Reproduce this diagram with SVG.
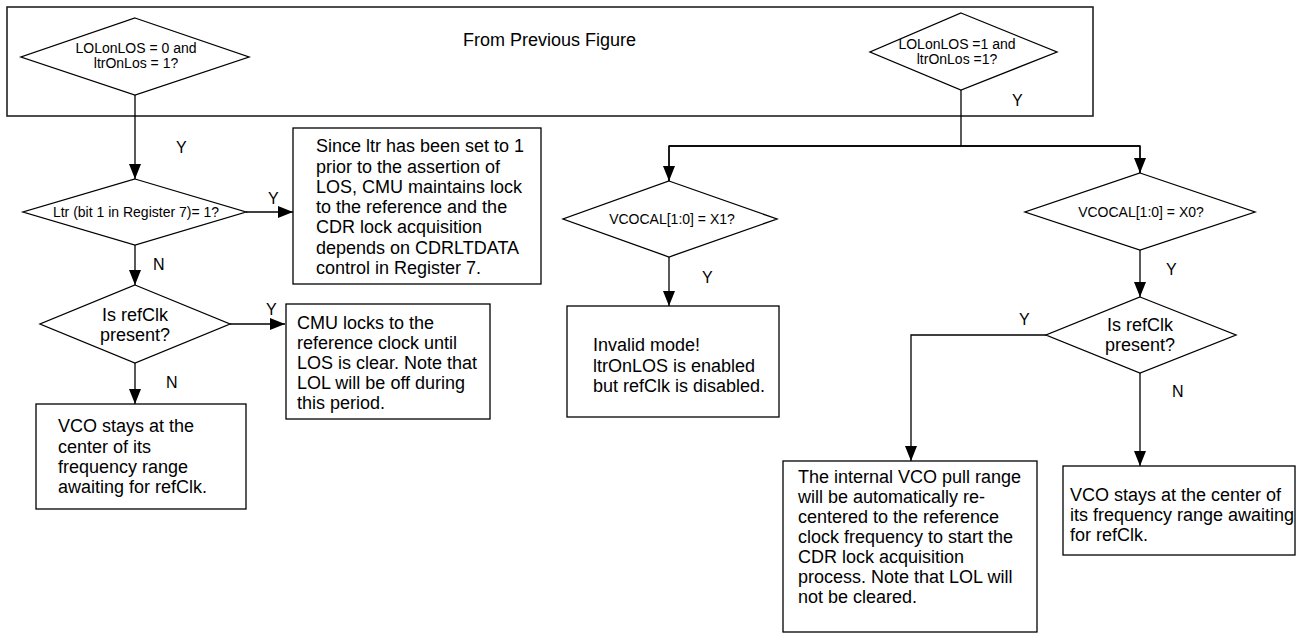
<svg xmlns="http://www.w3.org/2000/svg" width="1312" height="633" viewBox="0 0 1312 633">
<style>
  .shape { fill: #ffffff; stroke: #000000; stroke-width: 1.3; }
  .outer { fill: #ffffff; stroke: #222222; stroke-width: 1.6; }
  .conn { fill: none; stroke: #000000; stroke-width: 1.3; }
  .t18 { font-family: "Liberation Sans", Arial, sans-serif; font-size: 18px; fill: #000000; }
  .t14 { font-family: "Liberation Sans", Arial, sans-serif; font-size: 14px; fill: #000000; }
  .lbl { font-family: "Liberation Sans", Arial, sans-serif; font-size: 16px; fill: #000000; }
  .mid { text-anchor: middle; }
</style>
<defs>
  <marker id="arrow" markerUnits="userSpaceOnUse" markerWidth="15" markerHeight="12" refX="15" refY="6" orient="auto">
    <path d="M0,0 L15,6 L0,12 z" fill="#000000"/>
  </marker>
</defs>

<g id="outer-frame">
  <rect class="outer" x="7" y="7" width="1086" height="109"/>
  <text class="t18" x="463" y="46">From Previous Figure</text>
</g>

<g id="connectors">
  <line class="conn" x1="135" y1="95" x2="135" y2="179" marker-end="url(#arrow)"/>
  <text class="lbl" x="176" y="153">Y</text>
  <line class="conn" x1="246" y1="212" x2="293" y2="212" marker-end="url(#arrow)"/>
  <text class="lbl" x="268" y="204">Y</text>
  <line class="conn" x1="135" y1="245" x2="135" y2="285" marker-end="url(#arrow)"/>
  <text class="lbl" x="153" y="270">N</text>
  <line class="conn" x1="230" y1="324" x2="285" y2="324" marker-end="url(#arrow)"/>
  <text class="lbl" x="266" y="315">Y</text>
  <line class="conn" x1="135" y1="363" x2="135" y2="404" marker-end="url(#arrow)"/>
  <text class="lbl" x="166" y="388">N</text>

  <polyline class="conn" points="961,90 961,146"/>
  <text class="lbl" x="1012" y="106">Y</text>
  <polyline class="conn" points="669,181 669,146 1140,146 1140,173" stroke="none"/>
  <line class="conn" x1="669" y1="146" x2="1140" y2="146"/>
  <line class="conn" x1="669" y1="146" x2="669" y2="181" marker-end="url(#arrow)"/>
  <line class="conn" x1="1140" y1="146" x2="1140" y2="173" marker-end="url(#arrow)"/>

  <line class="conn" x1="669" y1="257" x2="669" y2="306" marker-end="url(#arrow)"/>
  <text class="lbl" x="702" y="283">Y</text>

  <line class="conn" x1="1140" y1="250" x2="1140" y2="297" marker-end="url(#arrow)"/>
  <text class="lbl" x="1166" y="275">Y</text>

  <polyline class="conn" points="1046,335 911,335 911,461" marker-end="url(#arrow)"/>
  <text class="lbl" x="1019" y="325">Y</text>
  <line class="conn" x1="1140" y1="373" x2="1140" y2="466" marker-end="url(#arrow)"/>
  <text class="lbl" x="1172" y="397">N</text>
</g>

<g id="dec-lolonlos0">
  <polygon class="shape" points="135,18 249,57 135,95 21,57"/>
  <text class="t14 mid" x="136" y="53">LOLonLOS = 0 and</text>
  <text class="t14 mid" x="136" y="68">ltrOnLos = 1?</text>
</g>

<g id="dec-lolonlos1">
  <polygon class="shape" points="961,13 1057,52 961,90 870,52"/>
  <text class="t14 mid" x="957" y="49">LOLonLOS =1 and</text>
  <text class="t14 mid" x="957" y="64">ltrOnLos =1?</text>
</g>

<g id="dec-ltr">
  <polygon class="shape" points="135,179 246,212 135,245 23,212"/>
  <text class="t14 mid" x="136" y="217">Ltr (bit 1 in Register 7)= 1?</text>
</g>

<g id="box-since">
  <rect class="shape" x="293" y="128" width="248" height="156"/>
  <text class="t18" x="316" y="152">Since ltr has been set to 1</text>
  <text class="t18" x="316" y="172.5">prior to the assertion of</text>
  <text class="t18" x="316" y="193">LOS, CMU maintains lock</text>
  <text class="t18" x="316" y="213">to the reference and the</text>
  <text class="t18" x="316" y="233">CDR lock acquisition</text>
  <text class="t18" x="316" y="253.5">depends on CDRLTDATA</text>
  <text class="t18" x="316" y="274">control in Register 7.</text>
</g>

<g id="dec-refclk-left">
  <polygon class="shape" points="135,285 230,324 135,363 40,324"/>
  <text class="t18 mid" x="135" y="321">Is refClk</text>
  <text class="t18 mid" x="135" y="341">present?</text>
</g>

<g id="box-cmu">
  <rect class="shape" x="286" y="304" width="204" height="115"/>
  <text class="t18" x="297" y="329">CMU locks to the</text>
  <text class="t18" x="297" y="349">reference clock until</text>
  <text class="t18" x="297" y="369">LOS is clear. Note that</text>
  <text class="t18" x="297" y="389">LOL will be off during</text>
  <text class="t18" x="297" y="409">this period.</text>
</g>

<g id="box-vco-left">
  <rect class="shape" x="36" y="404" width="210" height="105"/>
  <text class="t18" x="58" y="432">VCO stays at the</text>
  <text class="t18" x="58" y="452.5">center of its</text>
  <text class="t18" x="58" y="473">frequency range</text>
  <text class="t18" x="58" y="493">awaiting for refClk.</text>
</g>

<g id="dec-vcocal-x1">
  <polygon class="shape" points="669,181 777,219 669,257 563,219"/>
  <text class="t14 mid" x="672" y="224">VCOCAL[1:0] = X1?</text>
</g>

<g id="box-invalid">
  <rect class="shape" x="567" y="306" width="212" height="111"/>
  <text class="t18" x="593" y="351">Invalid mode!</text>
  <text class="t18" x="593" y="371.5">ltrOnLOS is enabled</text>
  <text class="t18" x="593" y="392">but refClk is disabled.</text>
</g>

<g id="dec-vcocal-x0">
  <polygon class="shape" points="1140,173 1255,212 1140,250 1025,212"/>
  <text class="t14 mid" x="1141" y="217">VCOCAL[1:0] = X0?</text>
</g>

<g id="dec-refclk-right">
  <polygon class="shape" points="1140,297 1236,335 1140,373 1046,335"/>
  <text class="t18 mid" x="1140" y="331">Is refClk</text>
  <text class="t18 mid" x="1140" y="351">present?</text>
</g>

<g id="box-recenter">
  <rect class="shape" x="783" y="461" width="254" height="171"/>
  <text class="t18" x="798" y="483">The internal VCO pull range</text>
  <text class="t18" x="798" y="503">will be automatically re-</text>
  <text class="t18" x="798" y="523">centered to the reference</text>
  <text class="t18" x="798" y="543">clock frequency to start the</text>
  <text class="t18" x="798" y="563">CDR lock acquisition</text>
  <text class="t18" x="798" y="583">process. Note that LOL will</text>
  <text class="t18" x="798" y="603">not be cleared.</text>
</g>

<g id="box-vco-right">
  <rect class="shape" x="1063" y="466" width="232" height="89"/>
  <text class="t18" x="1070" y="501">VCO stays at the center of</text>
  <text class="t18" x="1070" y="521">its frequency range awaiting</text>
  <text class="t18" x="1070" y="541">for refClk.</text>
</g>
</svg>
